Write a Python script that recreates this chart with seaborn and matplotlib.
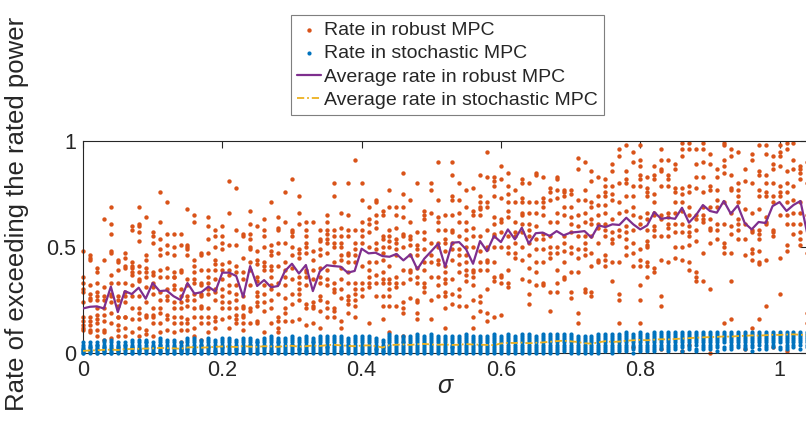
import numpy as np
import pandas as pd
import matplotlib
matplotlib.use("Agg")
import matplotlib.pyplot as plt
import seaborn as sns

# ---------------- data ----------------
sigma = np.round(np.arange(0, 105) * 0.01, 2)          # 0.00 ... 1.04

robust_avg = [0.21, 0.218, 0.22, 0.21, 0.313, 0.193, 0.292, 0.278, 0.308, 0.256, 0.33, 0.292, 0.295, 0.268, 0.25, 0.33, 0.28, 0.287,
              0.313, 0.29, 0.379, 0.379, 0.363, 0.264, 0.41, 0.316, 0.344, 0.31, 0.316, 0.387, 0.421, 0.375, 0.415, 0.292, 0.385,
              0.414, 0.41, 0.407, 0.379, 0.387, 0.492, 0.47, 0.473, 0.457, 0.454, 0.467, 0.437, 0.465, 0.395, 0.445, 0.48, 0.516, 0.407,
              0.52, 0.523, 0.489, 0.421, 0.528, 0.48, 0.552, 0.523, 0.583, 0.536, 0.591, 0.516, 0.565, 0.568, 0.552, 0.575, 0.555,
              0.568, 0.571, 0.575, 0.544, 0.602, 0.594, 0.607, 0.604, 0.638, 0.607, 0.583, 0.602, 0.665, 0.633, 0.638, 0.633, 0.685,
              0.615, 0.65, 0.698, 0.67, 0.662, 0.717, 0.657, 0.696, 0.613, 0.583, 0.618, 0.613, 0.693, 0.712, 0.67, 0.698, 0.717, 0.56]

stoch_avg_pct = [1.0, 1.2, 1.3, 1.5, 1.6, 1.4, 1.8, 1.9, 2.0, 2.1, 2.2, 2.4, 2.3, 2.2, 2.0, 2.6, 2.8, 2.5,
                 2.7, 2.9, 3.1, 3.0, 2.8, 3.3, 3.0, 2.9, 3.2, 3.1, 2.9, 3.3, 3.4, 3.0, 3.2, 3.5, 3.3,
                 3.7, 3.9, 3.6, 3.4, 3.2, 3.5, 3.6, 3.3, 2.6, 3.7, 3.9, 4.0, 3.8, 4.1, 4.3, 4.0, 3.9, 4.0,
                 3.8, 3.9, 4.2, 4.0, 3.9, 3.8, 3.7, 4.5, 4.8, 4.7, 4.9, 4.6, 4.8, 5.0, 5.3, 5.6, 5.8,
                 5.5, 5.2, 4.6, 4.4, 5.0, 5.6, 5.2, 5.4, 5.8, 6.0, 6.2, 6.0, 6.3, 6.5, 6.4, 6.6, 6.8,
                 7.0, 7.2, 7.4, 7.5, 7.6, 7.8, 7.7, 8.0, 8.1, 8.3, 8.2, 8.4, 8.6, 8.5, 8.7, 8.8, 8.6, 8.5]

# robust MPC runs, one list per sigma column (percent)
robust_pts = [
    [48, 36, 33, 30, 29, 24, 17, 15, 13, 12, 11],
    [46, 45, 44, 32, 28, 26, 25, 17, 15, 13, 11, 10],
    [40, 38, 33, 29, 27, 25, 21, 18, 16, 14, 11, 8],
    [63, 44, 31, 27, 25, 21, 18, 15, 11, 10, 6],
    [69, 61, 56, 48, 47, 37, 33, 28, 27, 24, 19, 14, 7],
    [44, 43, 39, 33, 27, 25, 22, 17, 17, 13, 11, 8],
    [47, 45, 41, 40, 33, 29, 27, 24, 17, 17, 12, 8],
    [60, 58, 43, 41, 40, 38, 37, 32, 27, 21, 16, 10],
    [69, 61, 60, 57, 53, 41, 38, 35, 34, 27, 21, 19, 16, 12, 8],
    [64, 46, 44, 40, 38, 36, 31, 24, 18, 17, 11, 9],
    [57, 55, 52, 38, 37, 33, 31, 28, 21, 18, 17, 14, 8],
    [76, 62, 54, 49, 46, 39, 36, 29, 25, 21, 19, 14, 10],
    [71, 56, 51, 47, 40, 36, 30, 27, 25, 18, 16, 11],
    [56, 50, 46, 38, 36, 36, 32, 30, 24, 21, 17, 14, 10],
    [56, 51, 39, 38, 30, 27, 24, 21, 17, 14, 11, 5],
    [68, 51, 50, 49, 46, 35, 32, 27, 25, 22, 16, 14, 11],
    [65, 62, 44, 41, 38, 35, 33, 28, 25, 21, 17, 12, 8],
    [47, 46, 39, 33, 32, 28, 27, 22, 21, 17, 14, 6],
    [64, 60, 54, 47, 39, 36, 33, 30, 28, 21, 17, 14, 10],
    [58, 55, 50, 44, 42, 39, 35, 30, 29, 25, 17, 15, 12],
    [60, 55, 52, 49, 42, 39, 35, 30, 27, 24, 21, 16],
    [81, 66, 51, 43, 39, 37, 32, 29, 24, 21, 17, 12],
    [78, 58, 51, 41, 38, 32, 28, 25, 21, 18, 16, 14],
    [56, 55, 45, 38, 35, 27, 22, 21, 18, 17, 14, 11],
    [67, 61, 56, 54, 50, 49, 43, 39, 32, 21, 20, 14],
    [60, 48, 44, 42, 36, 34, 29, 27, 24, 22, 15, 14],
    [63, 58, 55, 50, 43, 41, 39, 32, 28, 24, 20, 10],
    [71, 51, 48, 46, 41, 39, 36, 32, 30, 25, 21, 14],
    [64, 59, 58, 52, 47, 41, 33, 28, 17, 15, 12, 10],
    [76, 62, 52, 43, 39, 36, 32, 26, 21, 19, 15],
    [82, 58, 57, 55, 50, 46, 40, 35, 28, 23, 15],
    [74, 66, 61, 49, 47, 45, 36, 33, 30, 28, 25, 16],
    [62, 58, 55, 52, 50, 47, 39, 38, 36, 32, 23, 21, 13],
    [62, 48, 44, 39, 35, 24, 22, 21, 14],
    [58, 54, 53, 49, 46, 40, 36, 33, 27, 25, 20, 12],
    [65, 62, 58, 56, 54, 52, 47, 39, 35, 32, 24, 21, 17],
    [80, 74, 58, 55, 52, 50, 43, 33, 30, 29, 21, 20, 17],
    [66, 59, 55, 52, 50, 46, 44, 40, 35, 30, 26, 15, 12],
    [80, 65, 58, 55, 47, 46, 43, 38, 33, 27, 25, 23, 19],
    [91, 58, 52, 49, 46, 43, 33, 30, 28, 25, 22, 17],
    [80, 72, 62, 58, 55, 52, 41, 33, 30, 27],
    [69, 63, 61, 57, 50, 43, 39, 36, 33, 31, 14],
    [72, 71, 65, 62, 59, 52, 49, 43, 37, 33, 27],
    [67, 65, 55, 54, 50, 47, 44, 38, 35, 33, 27, 22, 16],
    [77, 69, 58, 55, 53, 50, 41, 35, 33, 30, 27, 22, 10],
    [69, 65, 59, 54, 52, 49, 46, 36, 33, 31, 22],
    [85, 75, 69, 64, 56, 55, 50, 39, 33, 24, 21, 19, 8],
    [72, 62, 55, 54, 51, 46, 39, 38, 35, 26],
    [80, 57, 51, 49, 46, 40, 36, 33, 25, 24, 19, 16],
    [67, 65, 63, 57, 54, 49, 43, 39, 33, 31, 29],
    [80, 77, 66, 52, 46, 43, 36, 25, 16],
    [90, 72, 64, 62, 58, 52, 50, 44, 42, 36, 32, 27],
    [65, 58, 54, 52, 48, 41, 38, 35, 33, 29, 27, 21, 12],
    [90, 84, 74, 72, 65, 58, 57, 52, 49, 44, 35, 28, 23],
    [80, 72, 66, 62, 55, 49, 46, 42, 38, 30, 27, 22],
    [77, 69, 62, 58, 54, 50, 46, 43, 39, 37, 34, 22],
    [78, 67, 65, 59, 55, 50, 39, 38, 36, 32, 25, 17, 12],
    [84, 74, 71, 69, 68, 65, 55, 48, 43, 39, 27, 24, 20],
    [95, 83, 71, 69, 58, 50, 49, 44, 43, 39, 30, 19, 15],
    [83, 81, 79, 74, 64, 61, 56, 55, 50, 43, 36, 34, 17],
    [88, 82, 73, 63, 62, 57, 50, 37, 36, 33, 18],
    [85, 79, 75, 71, 67, 64, 55, 50, 47, 39, 33, 31],
    [77, 71, 62, 57, 55, 52, 47, 45],
    [82, 80, 73, 71, 66, 65, 61, 57, 50, 44, 35],
    [80, 71, 66, 61, 58, 55, 52, 46, 40, 34, 28, 23],
    [85, 84, 71, 66, 60, 54, 49, 43, 38, 32],
    [83, 73, 71, 69, 65, 56, 54, 49, 43, 33, 32],
    [78, 76, 72, 62, 55, 50, 47, 45, 29, 20],
    [83, 82, 77, 73, 66, 62, 50, 47, 39, 33, 29],
    [77, 76, 74, 69, 65, 55, 52, 48, 43, 36, 35],
    [77, 75, 69, 64, 61, 57, 50, 47, 38, 29, 26],
    [92, 87, 72, 65, 60, 55, 49, 45, 38, 19, 14],
    [90, 77, 72, 66, 62, 55, 52, 49, 46, 30, 29],
    [86, 81, 71, 69, 63, 61, 55, 47, 41, 29, 27],
    [83, 74, 70, 65, 61, 59, 52, 44, 43],
    [82, 79, 76, 74, 70, 66, 61, 58, 55, 46, 44, 41],
    [89, 86, 79, 75, 72, 63, 57, 54, 52, 43, 34],
    [96, 93, 80, 71, 66, 58, 55, 43, 28, 25, 14],
    [98, 86, 82, 80, 74, 67, 60, 57, 54, 50, 46],
    [95, 90, 79, 74, 69, 65, 58, 52, 47, 41, 3],
    [98, 91, 88, 84, 82, 79, 64, 61, 49, 44, 41, 32, 25, 14],
    [83, 78, 76, 74, 66, 63, 58, 53, 51, 50, 43, 41, 36],
    [88, 84, 82, 75, 71, 66, 65, 60, 58, 55, 40, 38],
    [96, 91, 87, 86, 79, 65, 63, 55, 44, 27, 22, 2],
    [91, 84, 82, 79, 66, 64, 61, 59, 55, 43],
    [89, 87, 78, 76, 71, 66, 61, 57, 50, 45],
    [99, 96, 93, 78, 75, 71, 67, 61, 57, 50, 44, 1],
    [99, 96, 79, 76, 69, 65, 60, 57, 55, 51, 43, 39, 4],
    [96, 89, 83, 78, 65, 63, 58, 53, 38, 36, 34],
    [99, 96, 90, 83, 76, 69, 65, 63, 62, 47, 34],
    [94, 89, 79, 77, 69, 63, 59, 58, 52, 30, 0],
    [87, 83, 77, 72, 69, 61, 58, 54],
    [99, 98, 91, 88, 85, 71, 61, 52, 50, 47, 14],
    [96, 93, 84, 78, 77, 66, 60, 56, 47, 34, 16],
    [95, 80, 77, 74, 71, 63, 61, 58, 54],
    [87, 81, 68, 61, 54, 46, 2],
    [94, 91, 80, 66, 58, 57, 49, 47, 44, 12],
    [98, 86, 84, 77, 74, 68, 58, 56, 54, 48, 43, 42, 16],
    [98, 94, 84, 80, 76, 74, 64, 62, 61, 44, 22],
    [93, 89, 87, 80, 74, 71, 58, 57, 55, 3],
    [98, 95, 93, 88, 79, 76, 74, 65, 45, 28],
    [99, 96, 86, 80, 76, 71, 65, 61, 51, 48, 1],
    [99, 91, 87, 79, 72, 66, 61, 56],
    [88, 87, 85, 82, 71, 66, 61, 57, 54, 51],
    [90, 80, 65, 47, 19, 14],
]

# stochastic MPC runs, one list per sigma column (percent)
stoch_pts = [
    [0, 0, 1, 1, 2, 2, 3, 4, 5], [0, 1, 1, 2, 3, 3, 4, 5], [0, 0, 1, 2, 2, 3, 4, 4, 5],
    [0, 1, 1, 2, 3, 3, 4, 5, 6], [0, 0, 1, 2, 2, 3, 4, 5, 6], [0, 1, 1, 2, 3, 3, 4, 5],
    [0, 1, 2, 2, 3, 4, 4, 5], [0, 0, 1, 2, 3, 3, 4, 5, 6], [0, 1, 1, 2, 2, 3, 4, 5, 6],
    [0, 1, 2, 2, 3, 4, 5, 5, 6], [0, 0, 1, 2, 3, 3, 4, 5], [0, 1, 1, 2, 3, 4, 4, 5, 6, 7],
    [0, 1, 2, 2, 3, 4, 5, 6], [0, 0, 1, 2, 3, 3, 4, 5, 6], [0, 1, 1, 2, 2, 3, 4, 5],
    [0, 1, 2, 2, 3, 4, 5, 6, 7], [0, 1, 1, 2, 3, 4, 5, 6, 7], [0, 0, 1, 2, 3, 4, 4, 5, 6],
    [0, 1, 2, 3, 3, 4, 5, 6, 7], [0, 1, 1, 2, 3, 4, 5, 6], [0, 1, 2, 3, 3, 4, 5, 6, 7],
    [0, 0, 1, 2, 3, 4, 5, 6, 7], [0, 1, 2, 2, 3, 4, 5, 6], [0, 1, 1, 2, 3, 4, 5, 6, 7],
    [0, 1, 2, 3, 4, 4, 5, 6, 7], [0, 0, 1, 2, 3, 4, 5, 5, 6], [0, 1, 2, 3, 3, 4, 5, 6, 7],
    [0, 1, 1, 2, 3, 4, 5, 6, 7, 8], [0, 1, 2, 3, 4, 5, 5, 6, 7], [0, 0, 1, 2, 3, 4, 5, 6, 7],
    [0, 1, 2, 3, 4, 4, 5, 6, 7, 8], [0, 1, 2, 2, 3, 4, 5, 6, 7], [0, 1, 1, 2, 3, 4, 5, 6, 7, 8],
    [0, 1, 2, 3, 4, 5, 5, 6, 7], [0, 0, 1, 2, 3, 4, 5, 6, 7, 8], [0, 1, 2, 3, 3, 4, 5, 6, 7, 8],
    [0, 1, 2, 3, 4, 5, 6, 7, 8], [0, 1, 1, 2, 3, 4, 5, 6, 7, 8], [0, 1, 2, 3, 4, 4, 5, 6, 7],
    [0, 1, 2, 3, 4, 5, 6, 7, 8], [0, 0, 1, 2, 3, 4, 5, 6, 7, 8], [0, 1, 2, 3, 4, 5, 6, 7, 8],
    [0, 1, 2, 2, 3, 4, 5, 6, 7], [0, 1, 1, 2, 3, 3, 4, 5, 6], [0, 1, 2, 3, 4, 5, 6, 7, 8, 9],
    [0, 1, 2, 3, 4, 5, 6, 7, 8], [0, 1, 2, 3, 4, 5, 5, 6, 7, 8], [0, 1, 2, 3, 4, 5, 6, 7, 8],
    [0, 1, 2, 3, 4, 5, 6, 7, 8, 9], [0, 1, 2, 3, 4, 5, 6, 7, 8], [0, 1, 2, 3, 4, 5, 6, 7, 8, 9],
    [0, 1, 2, 3, 4, 5, 6, 7, 8], [0, 1, 2, 3, 4, 5, 6, 7, 8], [0, 1, 2, 3, 3, 4, 5, 6, 7, 8],
    [0, 1, 2, 3, 4, 5, 6, 7, 8], [0, 1, 2, 3, 4, 5, 6, 7, 8, 9], [0, 1, 2, 3, 4, 5, 6, 7, 8],
    [0, 1, 2, 3, 4, 4, 5, 6, 7, 8], [0, 1, 2, 3, 4, 5, 6, 7, 8], [0, 1, 2, 3, 4, 5, 6, 7, 8, 9],
    [0, 1, 2, 3, 4, 5, 6, 7, 8], [0, 1, 2, 3, 4, 5, 6, 7, 8, 9], [0, 1, 2, 3, 4, 5, 6, 7, 8],
    [0, 1, 2, 3, 4, 5, 6, 7, 8, 9], [0, 1, 2, 3, 4, 5, 6, 7, 8, 9], [0, 1, 2, 3, 4, 5, 6, 7, 8],
    [0, 1, 2, 3, 4, 5, 6, 7, 8, 9], [0, 1, 2, 3, 4, 5, 6, 7, 8, 9], [0, 1, 2, 3, 4, 5, 6, 7, 8, 9],
    [1, 2, 3, 4, 5, 6, 7, 8, 9], [0, 1, 2, 3, 4, 5, 6, 7, 8, 9], [0, 1, 2, 3, 4, 5, 6, 7, 8],
    [0, 1, 2, 3, 4, 5, 6, 7, 8], [0, 1, 2, 3, 4, 5, 6, 7, 8], [0, 1, 2, 3, 4, 5, 6, 7, 8, 9],
    [1, 2, 3, 4, 5, 6, 7, 8, 9], [0, 1, 2, 3, 4, 5, 6, 7, 8, 9], [1, 2, 3, 4, 5, 6, 7, 8, 9],
    [1, 2, 3, 4, 5, 6, 7, 8, 9, 10], [0, 2, 3, 4, 5, 6, 7, 8, 9], [1, 2, 3, 4, 5, 6, 7, 8, 9, 10],
    [1, 2, 3, 4, 5, 6, 7, 8, 9], [1, 2, 3, 4, 5, 6, 7, 8, 9, 10], [2, 3, 4, 5, 6, 7, 8, 9, 10],
    [1, 2, 3, 4, 5, 6, 7, 8, 9, 10], [2, 3, 4, 5, 6, 7, 8, 9, 10], [1, 3, 4, 5, 6, 7, 8, 9, 10],
    [2, 3, 4, 5, 6, 7, 8, 9, 10], [1, 2, 4, 5, 6, 7, 8, 9, 10], [2, 3, 4, 5, 6, 7, 8, 9, 10],
    [2, 3, 4, 5, 6, 7, 8, 9, 10], [1, 3, 4, 5, 6, 7, 8, 9, 10], [2, 3, 5, 6, 7, 8, 9, 10],
    [2, 3, 4, 5, 6, 7, 8, 9, 10], [3, 4, 5, 6, 7, 8, 9, 10], [2, 3, 4, 5, 6, 7, 8, 9, 10],
    [1, 3, 4, 5, 6, 7, 8, 9, 10], [2, 4, 5, 6, 7, 8, 9, 10], [2, 3, 4, 5, 6, 7, 8, 9, 10],
    [3, 4, 5, 6, 7, 8, 9, 10], [2, 3, 5, 6, 7, 8, 9, 10], [2, 3, 4, 5, 6, 7, 8, 9, 10],
    [3, 4, 5, 6, 7, 8, 9, 10], [2, 4, 5, 6, 7, 8, 9, 10], [3, 4, 5, 6, 7, 8, 9, 10],
]

x_ticks = [0, 0.2, 0.4, 0.6, 0.8, 1.0]
x_ticklabels = ["0", "0.2", "0.4", "0.6", "0.8", "1"]
y_ticks = [0, 0.5, 1.0]
y_ticklabels = ["0", "0.5", "1"]
legend_labels = ["Rate in robust MPC", "Rate in stochastic MPC",
                 "Average rate in robust MPC", "Average rate in stochastic MPC"]

# ---------------- tables ----------------
rob_df = pd.DataFrame([(s, v / 100.0) for s, col in zip(sigma, robust_pts) for v in col],
                      columns=["sigma", "rate"])
sto_df = pd.DataFrame([(s, v / 100.0) for s, col in zip(sigma, stoch_pts) for v in col],
                      columns=["sigma", "rate"])
avg_df = pd.DataFrame({"sigma": sigma, "robust": robust_avg,
                       "stoch": np.array(stoch_avg_pct) / 100.0})

# ---------------- style ----------------
sns.set_style("white")
plt.rcParams["font.family"] = ["Liberation Sans", "DejaVu Sans"]
ink = "#262626"

W, H = 806, 424
fig = plt.figure(figsize=(W / 100, H / 100), dpi=100)
ax = fig.add_axes([83 / W, 71 / H, (807.4 - 83) / W, 212 / H])

c_rob, c_sto = "#D95319", "#0072BD"
c_ravg, c_savg = "#7E2F8E", "#EDB120"

sns.scatterplot(data=rob_df, x="sigma", y="rate", color=c_rob, s=10, linewidth=0,
                ax=ax, label=legend_labels[0], clip_on=False, zorder=2)
sns.scatterplot(data=sto_df, x="sigma", y="rate", color=c_sto, s=9, linewidth=0,
                ax=ax, label=legend_labels[1], clip_on=False, zorder=3)
sns.lineplot(data=avg_df, x="sigma", y="robust", color=c_ravg, linewidth=1.6,
             ax=ax, label=legend_labels[2], zorder=4)
sns.lineplot(data=avg_df, x="sigma", y="stoch", color=c_savg, linewidth=1.3,
             ax=ax, label=legend_labels[3], zorder=5)
ax.lines[-1].set_dashes([4, 1.6, 1, 1.6])

ax.set_xlim(0, 1.04)
ax.set_ylim(0, 1)
ax.set_xticks(x_ticks)
ax.set_xticklabels(x_ticklabels)
ax.set_yticks(y_ticks)
ax.set_yticklabels(y_ticklabels)
ax.tick_params(direction="in", length=5, width=0.8, colors=ink, labelsize=15.5,
               top=True, right=True, pad=5)
for sp in ax.spines.values():
    sp.set_visible(True)
    sp.set_color(ink)
    sp.set_linewidth(0.8)

ax.set_xlabel("σ", fontsize=18, fontstyle="italic", color=ink)
ax.set_ylabel("Rate of exceeding the rated power", fontsize=18.5, color=ink)
ax.xaxis.set_label_coords(0.5, -0.1)
ax.yaxis.set_label_coords(-0.074, 0.656)

handles, labels = ax.get_legend_handles_labels()
ax.get_legend().remove()
leg = fig.legend(handles, labels, loc="center", bbox_to_anchor=(447.5 / W, 1 - 65 / H),
                 frameon=True, fancybox=False, edgecolor="#7f7f7f", framealpha=1,
                 fontsize=14, handlelength=1.25, handletextpad=0.15, labelspacing=0.3,
                 borderpad=0.3, borderaxespad=0, markerscale=1.0)
leg.get_frame().set_linewidth(0.8)

fig.savefig("out.png", dpi=100)
